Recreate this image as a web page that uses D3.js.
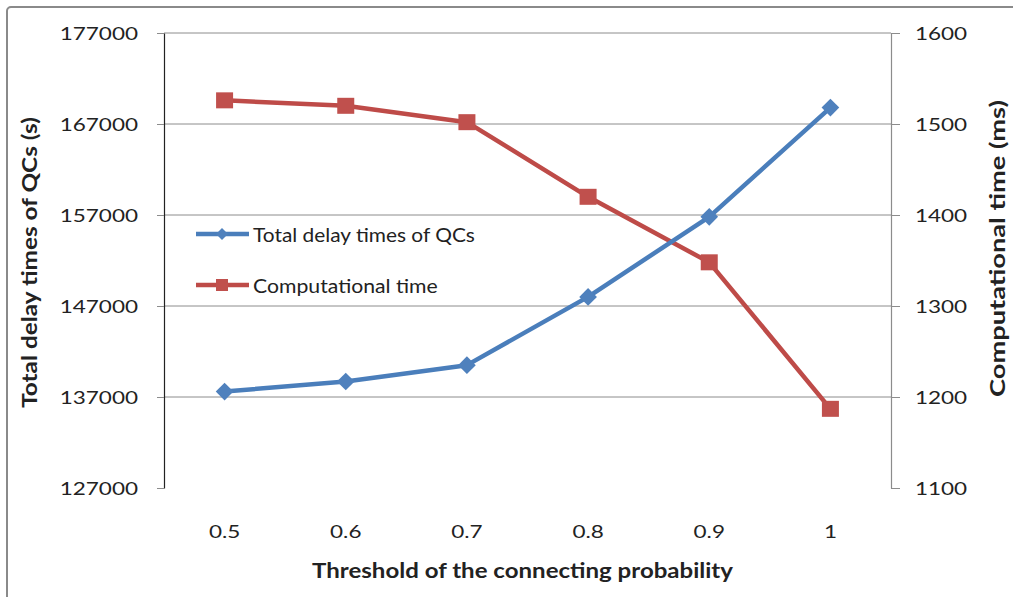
<!DOCTYPE html>
<html>
<head>
<meta charset="utf-8">
<script src="https://cdn.jsdelivr.net/npm/d3@7"></script>
<style>
  html, body { margin: 0; padding: 0; background: #fff; }
  svg { display: block; }
  text { font-family: Lato, "Open Sans", sans-serif; fill: #222; }
</style>
</head>
<body>
<svg id="chart" width="1013" height="597"></svg>
<script>
const categories = ["0.5", "0.6", "0.7", "0.8", "0.9", "1"];
const delayValues = [137600, 138700, 140500, 148000, 156800, 168800];
const compTimeValues = [1526, 1520, 1502, 1420, 1348, 1187];
const leftTicks = [127000, 137000, 147000, 157000, 167000, 177000];
const rightTicks = [1100, 1200, 1300, 1400, 1500, 1600];
const seriesNames = ["Total delay times of QCs", "Computational time"];
const xTitle = "Threshold of the connecting probability";
const yLeftTitle = "Total delay times of QCs (s)";
const yRightTitle = "Computational time (ms)";

const svg = d3.select("#chart");
const W = 1013, H = 597;
const plot = { left: 164, right: 891, top: 33, bottom: 488 };
const SX = 1.25; // horizontal stretch of the tick text seen in the reference

const blueLine = "#4A7EBB", blueFill = "#4F81BD";
const redLine = "#BE4B48", redFill = "#C0504D";

// outer frame (only top and left edges visible)
svg.append("rect").attr("x", 7).attr("y", 7).attr("width", W + 20).attr("height", H + 20)
  .attr("rx", 4).attr("fill", "none").attr("stroke", "#8a8a8a").attr("stroke-width", 2);

const x = d3.scaleBand().domain(categories).range([plot.left, plot.right]);
const yL = d3.scaleLinear().domain([127000, 177000]).range([plot.bottom, plot.top]);
const yR = d3.scaleLinear().domain([1100, 1600]).range([plot.bottom, plot.top]);

// text with horizontal stretch; if width given, stretch is fitted to that width
function stretchedText(g, tx, ty, str, opts) {
  const t = g.append("text")
    .attr("text-anchor", opts.anchor || "middle")
    .attr("dominant-baseline", "central")
    .style("font-size", (opts.size || 18) + "px")
    .style("font-weight", opts.bold ? "bold" : "normal")
    .text(str);
  let sx = opts.sx || SX;
  if (opts.width) {
    const natural = t.node().getComputedTextLength();
    if (natural > 0) sx = opts.width / natural;
  }
  t.attr("transform", `translate(${tx},${ty}) ${opts.rotate ? `rotate(${opts.rotate})` : ""} scale(${sx},1)`);
  return t;
}

// gridlines
svg.append("g").selectAll("line").data(leftTicks.slice(1)).join("line")
  .attr("x1", plot.left).attr("x2", plot.right)
  .attr("y1", d => yL(d)).attr("y2", d => yL(d))
  .attr("stroke", "#8c8c8c").attr("stroke-width", 1);

// left axis
const gL = svg.append("g").attr("transform", `translate(${plot.left},0)`)
  .call(d3.axisLeft(yL).tickValues(leftTicks).tickSize(7).tickSizeOuter(0).tickFormat(d3.format("d")));
gL.select(".domain").attr("stroke", "#222").attr("stroke-width", 1.2);
gL.selectAll(".tick line").attr("stroke", "#8c8c8c");
gL.selectAll(".tick text").remove();
leftTicks.forEach(v => stretchedText(svg, 138, yL(v), String(v), { anchor: "end", size: 18 }));

// right axis
const gR = svg.append("g").attr("transform", `translate(${plot.right},0)`)
  .call(d3.axisRight(yR).tickValues(rightTicks).tickSize(9).tickSizeOuter(0));
gR.select(".domain").attr("stroke", "#8c8c8c").attr("stroke-width", 1.2);
gR.selectAll(".tick line").attr("stroke", "#8c8c8c");
gR.selectAll(".tick text").remove();
rightTicks.forEach(v => stretchedText(svg, 915, yR(v), String(v), { anchor: "start", size: 18 }));

// x tick labels
categories.forEach(c => stretchedText(svg, x(c) + x.bandwidth() / 2, 530.5, c, { size: 18 }));

// axis titles
stretchedText(svg, 522.5, 570, xTitle, { size: 20, bold: true, width: 421 });
stretchedText(svg, 29, 262.5, yLeftTitle, { size: 20, bold: true, rotate: -90, width: 291 });
stretchedText(svg, 997, 248.5, yRightTitle, { size: 20, bold: true, rotate: -90, width: 297 });

const cx = c => x(c) + x.bandwidth() / 2;

// series lines
const lineL = d3.line().x((d, i) => cx(categories[i])).y(d => yL(d));
const lineR = d3.line().x((d, i) => cx(categories[i])).y(d => yR(d));

svg.append("path").datum(compTimeValues).attr("d", lineR)
  .attr("fill", "none").attr("stroke", redLine).attr("stroke-width", 4.5).attr("stroke-linejoin", "round");
svg.append("path").datum(delayValues).attr("d", lineL)
  .attr("fill", "none").attr("stroke", blueLine).attr("stroke-width", 4.5).attr("stroke-linejoin", "round");

// markers
svg.append("g").selectAll("rect").data(compTimeValues).join("rect")
  .attr("x", (d, i) => cx(categories[i]) - 8.5).attr("y", d => yR(d) - 8)
  .attr("width", 17).attr("height", 16).attr("fill", redFill);

svg.append("g").selectAll("path").data(delayValues).join("path")
  .attr("transform", (d, i) => `translate(${cx(categories[i])},${yL(d)}) rotate(45)`)
  .attr("d", d3.symbol().type(d3.symbolSquare).size(12.5 * 12.5))
  .attr("fill", blueFill);

// legend
const legend = svg.append("g");
const rows = [
  { name: seriesNames[0], y: 234, color: blueLine, fill: blueFill, shape: "diamond", width: 222 },
  { name: seriesNames[1], y: 285, color: redLine, fill: redFill, shape: "square", width: 185 }
];
rows.forEach(r => {
  legend.append("line").attr("x1", 196).attr("x2", 249).attr("y1", r.y).attr("y2", r.y)
    .attr("stroke", r.color).attr("stroke-width", 4.5);
  if (r.shape === "diamond") {
    legend.append("path").attr("transform", `translate(222,${r.y}) rotate(45)`)
      .attr("d", d3.symbol().type(d3.symbolSquare).size(8.5 * 8.5)).attr("fill", r.fill);
  } else {
    legend.append("rect").attr("x", 216).attr("y", r.y - 6).attr("width", 12).attr("height", 12).attr("fill", r.fill);
  }
  stretchedText(legend, 253, r.y, r.name, { anchor: "start", size: 19, width: r.width });
});
</script>
</body>
</html>
